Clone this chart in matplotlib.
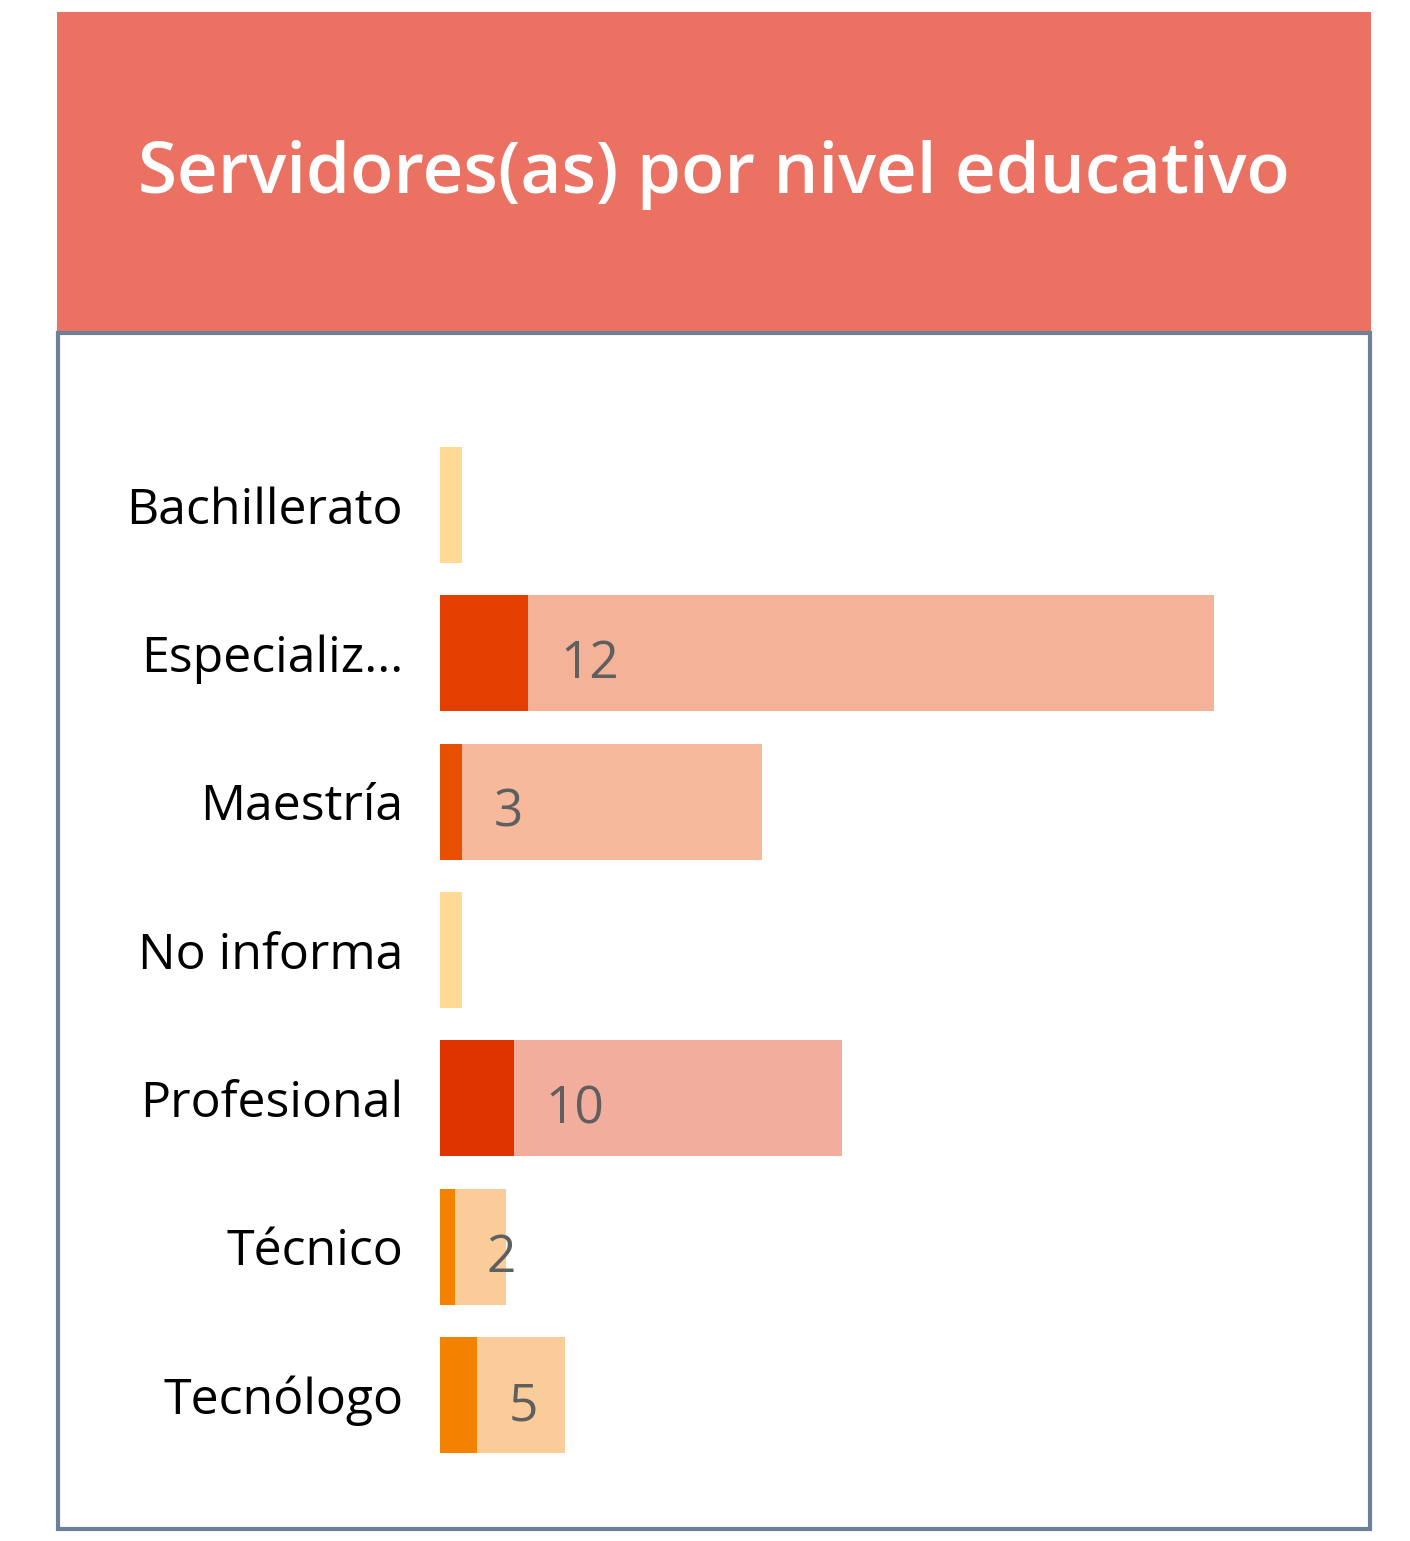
import matplotlib
matplotlib.use("Agg")
import matplotlib.pyplot as plt
from matplotlib.patches import Rectangle

# ---- data ----
categories = ["Bachillerato", "Especializ...", "Maestría", "No informa",
              "Profesional", "Técnico", "Tecnólogo"]
values = [0, 12, 3, 0, 10, 2, 5]                 # dark bars (labelled)
background = [3, 105.3, 43.8, 3, 54.7, 9, 17]    # light bars
value_labels = ["", "12", "3", "", "10", "2", "5"]
dark_colors = ["#E33F00", "#E33F00", "#E85000", "#E33F00",
               "#E03400", "#F38200", "#F38200"]
light_colors = ["#FFD996", "#F4B399", "#F6B99B", "#FFD996",
                "#F2AD9C", "#F9CC9A", "#F9CC9A"]
title = "Servidores(as) por nivel educativo"

W, H, DPI = 1410, 1541, 100
fig = plt.figure(figsize=(W / DPI, H / DPI), dpi=DPI)
fig.patch.set_facecolor("white")

def fx(px):
    return px / W

def fy(py):
    return 1 - py / H

# title banner
fig.patches.append(Rectangle((fx(57), fy(333)), fx(1371) - fx(57), fy(12) - fy(333),
                             transform=fig.transFigure, facecolor="#EB7262",
                             edgecolor="none", zorder=0))
# frame border
fig.patches.append(Rectangle((fx(58), fy(1529)), fx(1370) - fx(58), fy(333) - fy(1529),
                             transform=fig.transFigure, facecolor="none",
                             edgecolor="#6E7F99", linewidth=3, zorder=1))
fig.text(fx(714), fy(193), title, ha="center", va="baseline", color="white",
         fontsize=51, fontfamily="Open Sans", fontweight="semibold")

# axes
px_per_unit = 7.35
ax_left, ax_right = 440, 1340
top, bottom = 430.8, 1469.2
ax = fig.add_axes([fx(ax_left), fy(bottom), fx(ax_right) - fx(ax_left), fy(top) - fy(bottom)])
ax.set_xlim(0, (ax_right - ax_left) / px_per_unit)
ax.set_ylim(len(categories) - 0.5, -0.5)
ypos = list(range(len(categories)))
ax.barh(ypos, background, height=0.78, color=light_colors, zorder=1)
ax.barh(ypos, values, height=0.78, color=dark_colors, zorder=2)

for y, v, lab in zip(ypos, values, value_labels):
    if lab:
        ax.annotate(lab, xy=(v, y), xytext=(32 / 1.389, -25 / 1.389),
                    textcoords="offset points", ha="left", va="baseline",
                    color="#5F5F5F", fontsize=37, fontfamily="Open Sans", zorder=3)

ax.set_yticks(ypos)
ax.set_yticklabels(categories, fontsize=36, fontfamily="Open Sans", color="black")
ax.tick_params(axis="y", length=0, pad=37 / 1.389)
ax.set_xticks([])
for s in ax.spines.values():
    s.set_visible(False)
ax.patch.set_alpha(0)

fig.savefig("out.png", dpi=DPI)
